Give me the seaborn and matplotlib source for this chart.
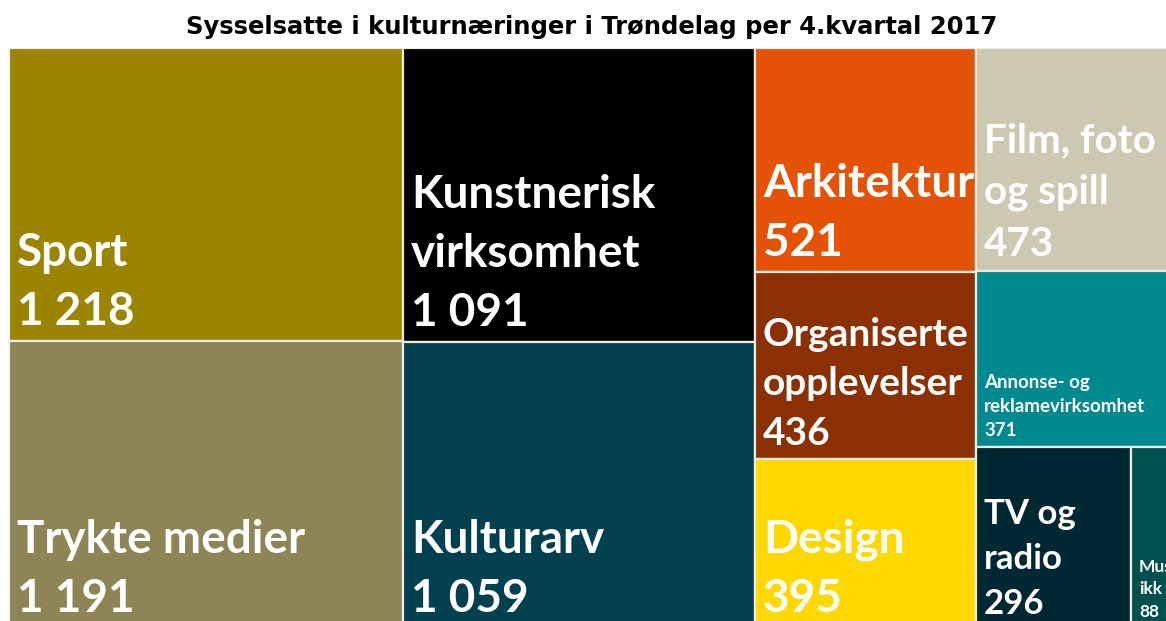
import matplotlib
matplotlib.use("Agg")
import matplotlib.pyplot as plt
import matplotlib.transforms as mtransforms
from matplotlib.patches import Rectangle
import seaborn as sns

# ---- data ----
title = "Sysselsatte i kulturnæringer i Trøndelag per 4.kvartal 2017"
categories = ["Sport", "Trykte medier", "Kunstnerisk virksomhet", "Kulturarv",
              "Arkitektur", "Organiserte opplevelser", "Design", "Film, foto og spill",
              "Annonse- og reklamevirksomhet", "TV og radio", "Musikk"]
label_lines = ["Sport", "Trykte medier", "Kunstnerisk\nvirksomhet", "Kulturarv",
               "Arkitektur", "Organiserte\nopplevelser", "Design", "Film, foto\nog spill",
               "Annonse- og\nreklamevirksomhet", "TV og\nradio", "Mus\nikk"]
values = [1218, 1191, 1091, 1059, 521, 436, 395, 473, 371, 296, 88]
colors = ["#9A8400", "#8D8555", "#000000", "#01404F", "#E35205", "#8A3003",
          "#FFD800", "#CCC8B2", "#00898E", "#002833", "#00504F"]
label_sizes = [33, 33, 33, 33, 33, 28, 33, 29, 13.5, 25, 12.5]
# column grouping of the treemap (a tuple = items side by side inside a column)
columns = [[0, 1], [2, 3], [4, 5, 6], [7, 8, (9, 10)]]

sns.set_theme(style="white")
plt.rcParams["font.family"] = ["Lato", "DejaVu Sans"]

fig = plt.figure(figsize=(11.66, 6.21), dpi=100)
W, H = 1166, 621
ax = fig.add_axes([9 / W, (621 - 628) / H, (1177 - 9) / W, 580 / H])
ax.set_xlim(0, 1)
ax.set_ylim(1, 0)
ax.axis("off")


def vsum(it):
    return sum(values[i] for i in it) if isinstance(it, tuple) else values[it]


total = sum(values)
rects = {}
x = 0.0
for col in columns:
    csum = sum(vsum(it) for it in col)
    cw = csum / total
    y = 0.0
    for it in col:
        h = vsum(it) / csum
        if isinstance(it, tuple):
            xx = x
            for i in it:
                w = cw * values[i] / vsum(it)
                rects[i] = (xx, y, w, h)
                xx += w
        else:
            rects[it] = (x, y, cw, h)
        y += h
    x += cw

gap = "#ECEBE2"
trans = mtransforms.offset_copy(ax.transData, fig=fig, x=8, y=8, units="dots")
for i, (rx, ry, rw, rh) in rects.items():
    patch = Rectangle((rx, ry), rw, rh, facecolor=colors[i],
                      edgecolor=gap, linewidth=1.6)
    ax.add_patch(patch)
    num = f"{values[i]:,}".replace(",", " ")
    txt = label_lines[i] + "\n" + num
    t = ax.text(rx, ry + rh, txt, transform=trans, ha="left", va="bottom",
                color="white", fontsize=label_sizes[i], fontweight="bold",
                linespacing=1.5)
    t.set_clip_path(patch)

fig.text(592 / W, 1 - 27 / H, title, ha="center", va="center",
         fontsize=17.5, fontweight="bold", family=["DejaVu Sans"], color="black")

fig.savefig("out.png", dpi=100, facecolor="white")
